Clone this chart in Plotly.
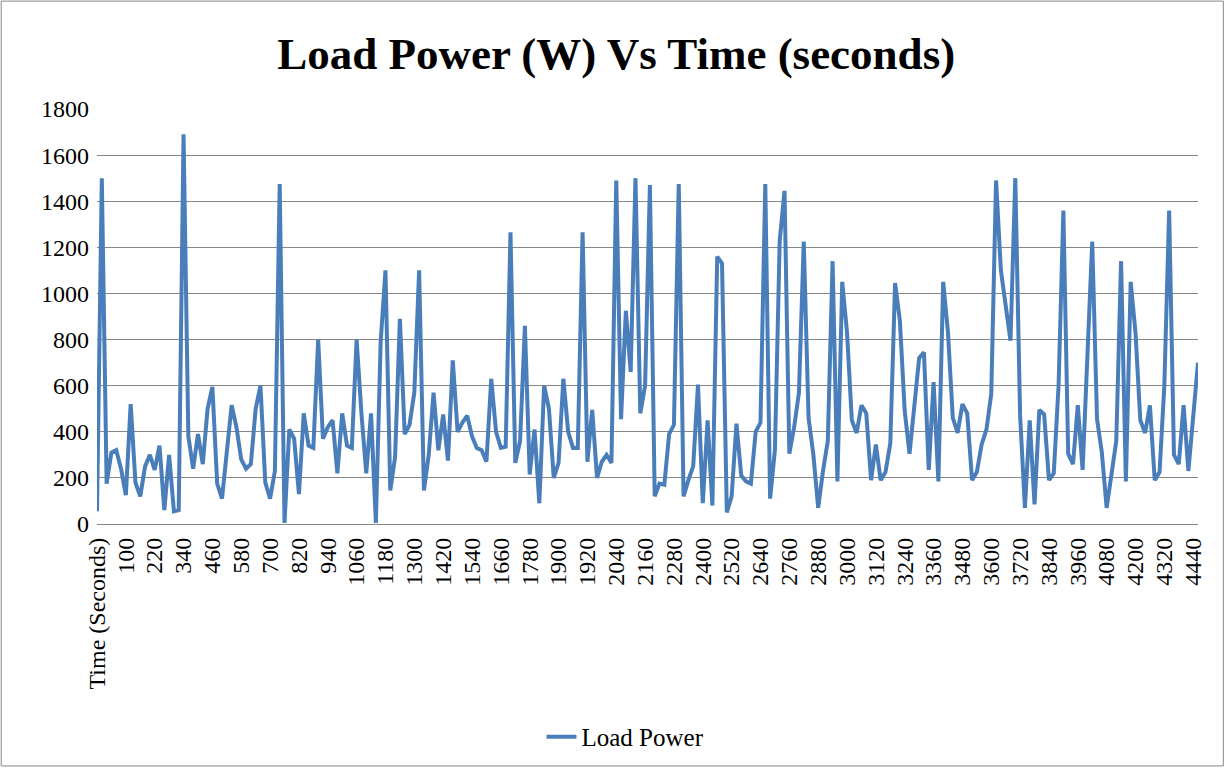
import plotly.graph_objects as go

# tick labels on the category axis (one every 6 readings)
tick_labels = ["Time (Seconds)",
               "100", "220", "340", "460", "580", "700", "820", "940", "1060",
               "1180", "1300", "1420", "1540", "1660", "1780", "1900",
               "1920", "2040", "2160", "2280", "2400", "2520", "2640", "2760",
               "2880", "3000", "3120", "3240", "3360", "3480", "3600", "3720",
               "3840", "3960", "4080", "4200", "4320", "4440"]

# load power readings (W)
load_power = [
    55, 1500, 175, 310, 320, 240, 125, 520, 180, 120,
    250, 300, 235, 340, 60, 300, 55, 60, 1690, 380,
    240, 390, 260, 500, 595, 175, 110, 330, 515, 420,
    280, 240, 260, 500, 600, 180, 110, 230, 1475, 5,
    410, 370, 130, 480, 340, 330, 800, 370, 420, 450,
    220, 480, 340, 330, 800, 480, 220, 480, 5, 790,
    1100, 145, 290, 890, 390, 430, 570, 1100, 145, 300,
    570, 320, 475, 275, 710, 400, 440, 470, 380, 330,
    320, 270, 630, 400, 330, 335, 1265, 265, 360, 860,
    215, 410, 90, 600, 500, 200, 265, 630, 400, 330,
    330, 1265, 270, 495, 200, 270, 300, 265, 1490, 455,
    925, 660, 1500, 480, 600, 1470, 120, 175, 170, 390,
    430, 1475, 120, 190, 250, 605, 90, 450, 80, 1160,
    1130, 50, 120, 435, 210, 185, 175, 400, 440, 1475,
    110, 320, 1230, 1445, 305, 420, 570, 1225, 460, 300,
    70, 230, 360, 1140, 185, 1050, 830, 450, 395, 515,
    480, 190, 345, 190, 225, 350, 1045, 880, 490, 305,
    510, 720, 745, 235, 615, 185, 1050, 830, 460, 395,
    520, 480, 190, 225, 345, 410, 565, 1490, 1100, 950,
    795, 1500, 470, 70, 450, 85, 495, 475, 190, 220,
    600, 1360, 305, 260, 515, 235, 700, 1225, 455, 310,
    70, 230, 360, 1140, 185, 1050, 830, 450, 395, 515,
    190, 225, 600, 1360, 300, 260, 515, 230, 465, 700,
]

x_idx = list(range(len(load_power)))
tick_pos = x_idx[::6][:len(tick_labels)]

serif = "Liberation Serif, Times New Roman, serif"
grid_col = "#878787"

fig = go.Figure()
fig.add_trace(go.Scatter(x=x_idx, y=load_power, mode="lines", name="Load Power",
                         line=dict(color="#4A7EBB", width=4)))

fig.update_layout(
    width=1225, height=768,
    margin=dict(l=97, r=27, t=109, b=244, autoexpand=False),
    paper_bgcolor="white", plot_bgcolor="white",
    font=dict(family=serif, size=24, color="black"),
    title=dict(text="<b>Load Power (W) Vs Time (seconds)</b>",
               font=dict(family=serif, size=45, color="black"),
               x=0.503, xanchor="center", y=0.931, yref="container", yanchor="middle"),
    showlegend=True,
    legend=dict(orientation="h", x=0.48, xanchor="center", y=-0.513, yanchor="middle",
                font=dict(family=serif, size=25)),
    shapes=[dict(type="rect", xref="paper", yref="paper",
                 x0=-0.087, x1=1.023, y0=-0.583, y1=1.26,
                 line=dict(color=grid_col, width=1), layer="below")],
)
fig.update_xaxes(range=[0, len(load_power) - 1], tickmode="array",
                 tickvals=tick_pos, ticktext=tick_labels, tickangle=-90,
                 showgrid=False, zeroline=False, showline=True, automargin=False,
                 linecolor=grid_col, linewidth=1.3, ticks="", ticklabelstandoff=3,
                 tickfont=dict(family=serif, size=24))
fig.update_yaxes(range=[0, 1800], dtick=200, showgrid=True, gridcolor=grid_col,
                 gridwidth=1.3, zeroline=False, showline=False, ticks="", automargin=False,
                 ticklabelstandoff=7, tickfont=dict(family=serif, size=24))

# drop the default 8px body margin so the figure sits at the page corner
fig.write_html("out.html", config={"displayModeBar": False},
               post_script="document.body.style.margin='0px';")
